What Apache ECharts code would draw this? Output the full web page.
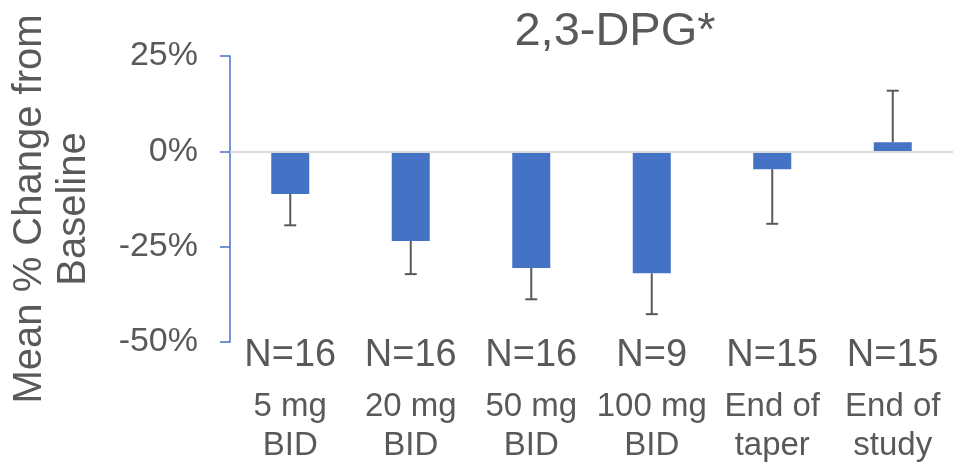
<!DOCTYPE html>
<html>
<head>
<meta charset="utf-8">
<script src="https://cdn.jsdelivr.net/npm/echarts@6/dist/echarts.min.js"></script>
<style>
  html, body { margin: 0; padding: 0; background: #fff; }
  #chart { width: 953px; height: 465px; }
</style>
</head>
<body>
<div id="chart"></div>
<script>
// Mean % change from baseline in 2,3-DPG by dose period
var counts = ['N=16', 'N=16', 'N=16', 'N=9', 'N=15', 'N=15'];
var periods = ['5 mg\nBID', '20 mg\nBID', '50 mg\nBID', '100 mg\nBID', 'End of\ntaper', 'End of\nstudy'];
var meanChange = [-11.2, -23.5, -30.6, -32.0, -4.7, 2.4];
var errorEnd = [-19.4, -32.2, -38.8, -42.7, -19.0, 15.9];
var yTicks = { min: -50, max: 25, step: 25 };

var FONT = "'Liberation Sans', Arial, sans-serif";
var GREY = '#595959';
var BLUE = '#4472C4';

var chart = echarts.init(document.getElementById('chart'), null, { renderer: 'canvas' });

var errData = meanChange.map(function (m, i) { return [i, m, errorEnd[i]]; });

chart.setOption({
  animation: false,
  title: {
    text: '2,3-DPG*',
    left: 610,
    top: 3,
    textAlign: 'center',
    textStyle: { fontFamily: FONT, fontSize: 47, fontWeight: 'normal', color: GREY, lineHeight: 48 }
  },
  grid: { left: 230, right: 0, top: 56, bottom: 123, containLabel: false },
  xAxis: [
    {
      type: 'category',
      data: counts.map(function (c, i) { return i; }),
      axisLine: { show: false },
      axisTick: { show: false },
      axisLabel: {
        margin: 0,
        interval: 0,
        formatter: function (v, i) { return counts[i]; },
        fontFamily: FONT, fontSize: 38, color: GREY, lineHeight: 28
      }
    },
    {
      type: 'category',
      position: 'bottom',
      data: periods,
      axisLine: { show: false },
      axisTick: { show: false },
      axisLabel: {
        margin: 45,
        interval: 0,
        fontFamily: FONT, fontSize: 33, color: GREY, lineHeight: 39
      }
    }
  ],
  yAxis: {
    type: 'value',
    min: yTicks.min,
    max: yTicks.max,
    interval: yTicks.step,
    axisLine: { show: true, lineStyle: { color: BLUE, width: 1.5 } },
    axisTick: { show: true, inside: false, length: 10, lineStyle: { color: BLUE, width: 1.5 } },
    splitLine: { show: false },
    axisLabel: {
      margin: 32,
      formatter: function (v) { return v + '%'; },
      fontFamily: FONT, fontSize: 34, color: GREY
    }
  },
  graphic: [
    {
      type: 'text',
      x: 52,
      y: 209,
      rotation: Math.PI / 2,
      style: {
        text: 'Mean % Change from\nBaseline',
        fontFamily: FONT,
        fontSize: 40,
        lineHeight: 44,
        fill: GREY,
        align: 'center',
        verticalAlign: 'middle'
      }
    }
  ],
  series: [
    {
      type: 'bar',
      xAxisIndex: 0,
      data: meanChange,
      barWidth: 38,
      itemStyle: { color: BLUE },
      markLine: {
        silent: true,
        symbol: 'none',
        label: { show: false },
        lineStyle: { color: '#d9d9d9', width: 2, type: 'solid' },
        data: [{ yAxis: 0 }]
      },
      z: 2
    },
    {
      type: 'custom',
      xAxisIndex: 0,
      data: errData,
      z: 3,
      renderItem: function (params, api) {
        var start = api.coord([api.value(0), api.value(1)]);
        var end = api.coord([api.value(0), api.value(2)]);
        var half = 6;
        var style = { stroke: GREY, lineWidth: 2 };
        return {
          type: 'group',
          children: [
            { type: 'line', shape: { x1: start[0], y1: start[1], x2: end[0], y2: end[1] }, style: style },
            { type: 'line', shape: { x1: end[0] - half, y1: end[1], x2: end[0] + half, y2: end[1] }, style: style }
          ]
        };
      }
    }
  ]
});
</script>
</body>
</html>
